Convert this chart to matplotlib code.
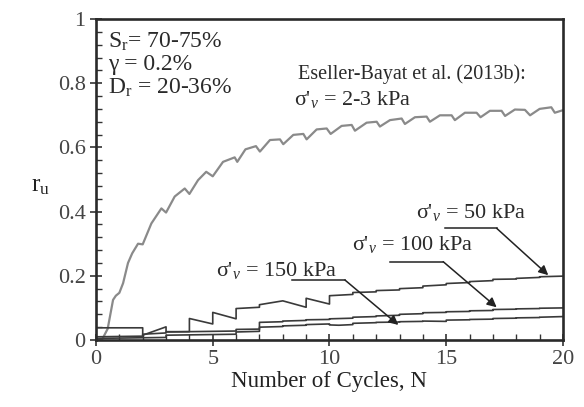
import matplotlib
matplotlib.use("Agg")
import matplotlib.pyplot as plt
from matplotlib.ticker import MultipleLocator, FixedLocator

plt.rcParams['font.family'] = ['Liberation Serif', 'DejaVu Serif']
plt.rcParams['mathtext.fontset'] = 'custom'
plt.rcParams['mathtext.rm'] = 'Liberation Serif'
plt.rcParams['mathtext.it'] = 'Liberation Serif:italic'

# ---- data ----
N_low = [0, 0.25, 0.5, 0.73, 0.85, 1.0, 1.16, 1.37, 1.55, 1.8, 2.0, 2.37, 2.8, 3.0, 3.37, 3.8, 4.0,
         4.37, 4.72, 5.0, 5.44, 5.94, 6.05, 6.4, 6.85, 7.02, 7.45, 7.88, 8.02, 8.45, 8.88, 9.02,
         9.45, 9.88, 10.05, 10.52, 10.95, 11.09, 11.59, 12.02, 12.16, 12.59, 13.09, 13.23, 13.66,
         14.16, 14.3, 14.73, 15.23, 15.37, 15.8, 16.3, 16.47, 16.87, 17.37, 17.52, 17.94, 18.37,
         18.59, 19.0, 19.5, 19.65, 20.0]
ru_low = [0, 0, 0.035, 0.125, 0.138, 0.147, 0.177, 0.24, 0.27, 0.30, 0.298, 0.363, 0.41, 0.397,
          0.447, 0.472, 0.455, 0.498, 0.524, 0.51, 0.555, 0.569, 0.555, 0.594, 0.604, 0.587, 0.623,
          0.625, 0.61, 0.639, 0.642, 0.625, 0.656, 0.659, 0.642, 0.667, 0.67, 0.652, 0.677, 0.68,
          0.665, 0.685, 0.69, 0.673, 0.694, 0.696, 0.68, 0.70, 0.70, 0.685, 0.708, 0.708, 0.694,
          0.714, 0.714, 0.698, 0.718, 0.717, 0.70, 0.72, 0.725, 0.708, 0.716]

N_50 = [0, 2, 2, 3, 3, 4, 4, 5, 5, 6, 6, 7, 7, 8, 9, 9, 10, 10, 11, 11, 12, 12, 13, 13, 14, 14,
        15, 15, 16, 16, 17, 17, 18, 18, 19, 19, 20]
ru_50 = [0.038, 0.038, 0.015, 0.041, 0.026, 0.026, 0.067, 0.050, 0.086, 0.066, 0.098, 0.102,
         0.110, 0.122, 0.102, 0.130, 0.112, 0.138, 0.142, 0.148, 0.150, 0.154, 0.156, 0.160,
         0.163, 0.168, 0.172, 0.176, 0.179, 0.182, 0.185, 0.189, 0.190, 0.192, 0.195, 0.197, 0.199]

N_100 = [0, 2, 2, 3, 3, 6, 6, 7, 7, 8, 8, 9, 9, 10, 10, 11, 11, 12, 12, 13, 13, 14, 14, 15, 15,
         16, 16, 17, 17, 18, 18, 19, 19, 20]
ru_100 = [0.010, 0.012, 0.018, 0.022, 0.025, 0.028, 0.033, 0.034, 0.055, 0.057, 0.059, 0.061,
          0.063, 0.064, 0.066, 0.068, 0.071, 0.073, 0.075, 0.077, 0.080, 0.082, 0.085, 0.086,
          0.088, 0.089, 0.091, 0.092, 0.095, 0.096, 0.097, 0.098, 0.099, 0.100]

N_150 = [0, 3, 3, 6, 6, 7, 7, 8, 8, 9, 9, 10, 10, 10.4, 11, 11, 12, 12, 13, 13, 14, 14, 15, 15,
         16, 16, 17, 17, 18, 18, 19, 19, 20]
ru_150 = [0.005, 0.008, 0.015, 0.018, 0.025, 0.027, 0.040, 0.042, 0.044, 0.046, 0.048, 0.050,
          0.047, 0.046, 0.048, 0.052, 0.054, 0.055, 0.056, 0.057, 0.058, 0.059, 0.058, 0.062,
          0.063, 0.064, 0.065, 0.067, 0.068, 0.069, 0.070, 0.071, 0.073]

x_ticks = [0, 5, 10, 15, 20]
y_ticks = [0, 0.2, 0.4, 0.6, 0.8, 1.0]
y_tick_labels = ["0", "0.2", "0.4", "0.6", "0.8", "1"]

# ---- figure ----
fig = plt.figure(figsize=(5.84, 4.07), dpi=100)
ax = fig.add_axes([0.1644, 0.1646, 0.7996, 0.7887])

ax.plot(N_low, ru_low, color='#8a8a8a', lw=1.6)
ax.plot(N_50, ru_50, color='#3a3a3a', lw=1.2)
ax.plot(N_100, ru_100, color='#3a3a3a', lw=1.2)
ax.plot(N_150, ru_150, color='#3a3a3a', lw=1.2)

ax.set_xlim(0, 20)
ax.set_ylim(0, 1)

ax.xaxis.set_major_locator(FixedLocator(x_ticks))
ax.xaxis.set_minor_locator(MultipleLocator(1))
ax.yaxis.set_major_locator(FixedLocator(y_ticks))
ax.set_yticklabels(y_tick_labels)
ax.yaxis.set_minor_locator(MultipleLocator(0.04))

ax.tick_params(which='major', direction='inout', length=9, width=1.2, labelsize=16,
               labelcolor='#444444', color='#333333', pad=3)
ax.tick_params(which='minor', direction='in', length=4, width=1.0, color='#333333')
ax.tick_params(top=False, right=False, which='both')
for s in ax.spines.values():
    s.set_linewidth(1.9)
    s.set_color('#2a2a2a')

ax.set_xlabel('Number of Cycles, N', fontsize=16.5, color='#222222', labelpad=1)
ax.set_ylabel(r'r$_\mathrm{u}$', fontsize=18, rotation=0, color='#222222', va='center')
ax.yaxis.set_label_coords(-0.12, 0.48)

tc = '#2a2a2a'
ax.text(0.5, 0.93, r'S$_\mathrm{r}$= 70-75%', fontsize=17, color=tc, va='center')
ax.text(0.5, 0.857, 'γ = 0.2%', fontsize=17, color=tc, va='center')
ax.text(0.5, 0.785, r'D$_\mathrm{r}$ = 20-36%', fontsize=17, color=tc, va='center')

ax.text(8.65, 0.829, 'Eseller-Bayat et al. (2013b):', fontsize=14.5, color=tc, va='center')
ax.text(8.48, 0.748, r"σ'$_\mathit{v}$ = 2-3 kPa", fontsize=16, color=tc, va='center')
ax.text(13.7, 0.396, r"σ'$_\mathit{v}$ = 50 kPa", fontsize=16, color=tc, va='center')
ax.text(10.96, 0.296, r"σ'$_\mathit{v}$ = 100 kPa", fontsize=16, color=tc, va='center')
ax.text(5.14, 0.218, r"σ'$_\mathit{v}$ = 150 kPa", fontsize=16, color=tc, va='center')

# leader lines with arrows: (start, corner, tip)
leaders = [((14.95, 0.348), (17.16, 0.348), (19.37, 0.202)),
           ((12.59, 0.244), (14.87, 0.244), (17.16, 0.102)),
           ((8.38, 0.187), (10.66, 0.187), (12.95, 0.047))]
for (x0, y0), (x1, y1), (x2, y2) in leaders:
    ax.plot([x0, x1], [y0, y1], color='#222222', lw=1.1)
    ax.annotate('', xy=(x2, y2), xytext=(x1, y1),
                arrowprops=dict(arrowstyle='-|>', color='#222222', lw=1.1,
                                mutation_scale=14, shrinkA=0, shrinkB=0))

fig.savefig('out.png', dpi=100)
